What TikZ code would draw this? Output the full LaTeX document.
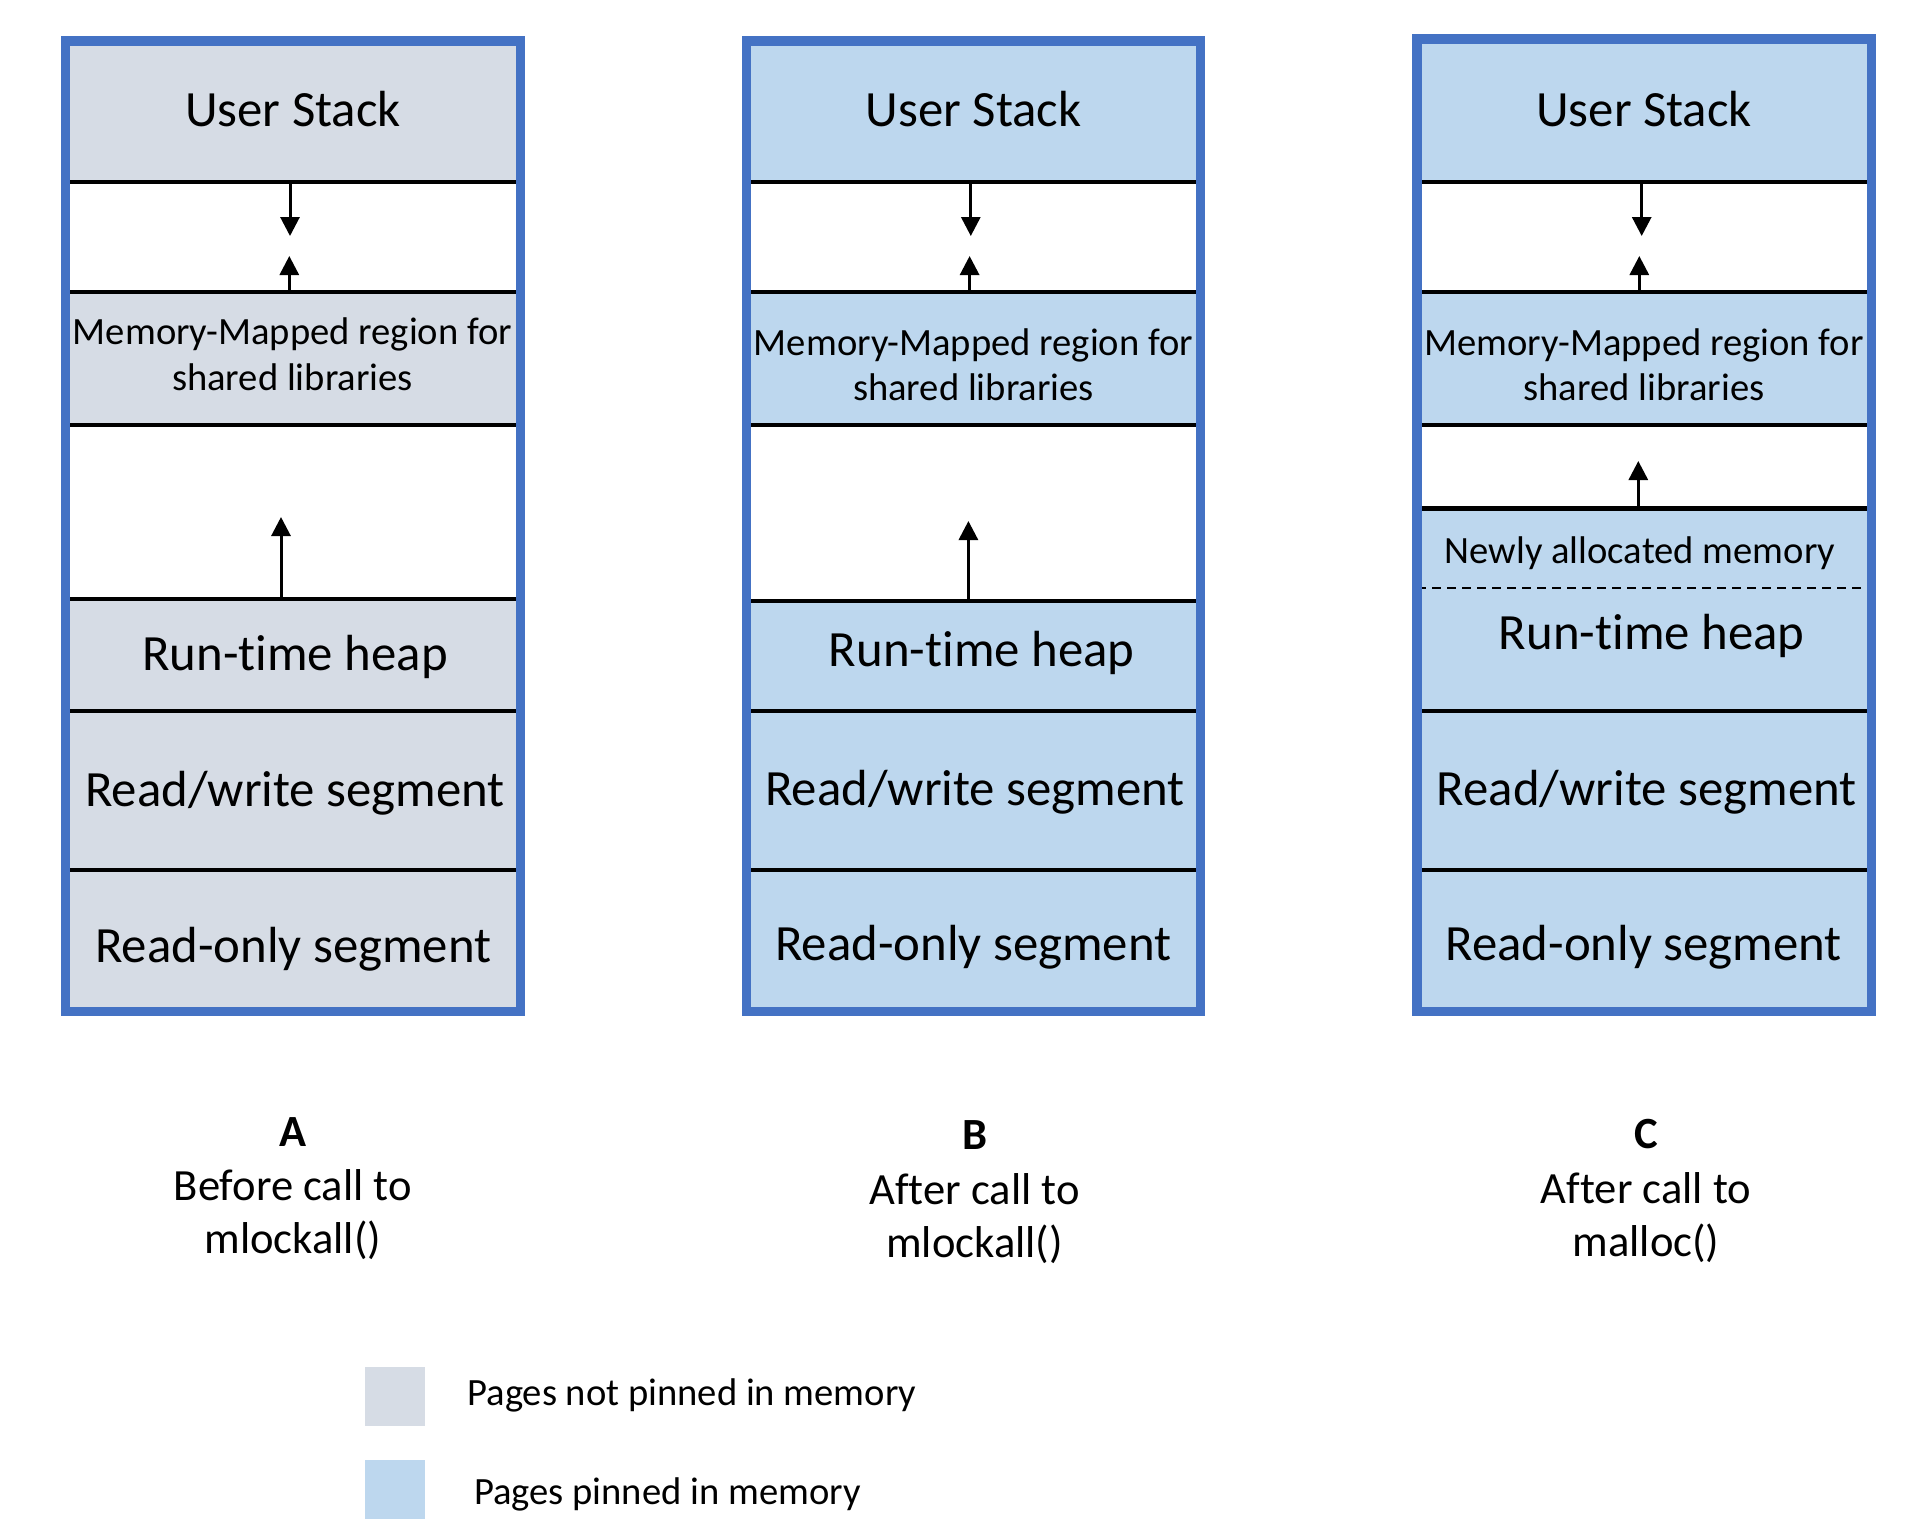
\documentclass[tikz,border=0pt]{standalone}
\usepackage{fontspec}
\setmainfont{Carlito}[Ligatures={NoCommon}]
\usetikzlibrary{arrows.meta}
\definecolor{bordblue}{HTML}{4472C4}
\definecolor{pinned}{HTML}{BDD7EE}
\definecolor{unpinned}{HTML}{D6DCE5}
\begin{document}
\begin{tikzpicture}[x=0.5pt,y=-0.5pt,
  border/.style={draw=bordblue,line width=4.75pt},
  sep/.style={draw=black,line width=2.25pt},
  dsep/.style={draw=black,line width=1pt,dash pattern=on 4.5pt off 3pt},
  growarrow/.style={draw=black,line width=1.5pt,-{Triangle[length=9.5pt,width=9.5pt]}},
  bigtxt/.style={inner sep=0pt,anchor=base,font=\fontsize{25.4pt}{30pt}\selectfont},
  midtxt/.style={inner sep=0pt,anchor=base,font=\fontsize{19.3pt}{23pt}\selectfont},
  lbltxt/.style={inner sep=0pt,anchor=base,font=\fontsize{22.3pt}{27pt}\selectfont},
  keybox/.style={inner sep=0pt,anchor=north west,minimum width=30.25pt,minimum height=29.5pt},
]
\useasboundingbox (0,0) rectangle (1932,1538);
\fill[white] (0,0) rectangle (1932,1538);

% ---------------- Panel A ----------------
\fill[unpinned] (65.5,41) rectangle (520.5,1011.5);
\fill[white] (65.5,182) rectangle (520.5,292);
\fill[white] (65.5,425) rectangle (520.5,599);
\foreach \yy in {182,292,425,599,711,870}
  \draw[sep] (65.5,\yy) -- (520.5,\yy);
\draw[border] (65.5,41) rectangle (520.5,1011.5);
\node[bigtxt] (usA) at (293,126) {User Stack};
\node[midtxt] (mmA1) at (292.5,344) {Memory-Mapped region for};
\node[midtxt] (mmA2) at (292.5,390.7) {shared libraries};
\node[bigtxt] (rhA) at (295,670) {Run-time heap};
\node[bigtxt] (rwA) at (295,806) {Read/write segment};
\node[bigtxt] (roA) at (293.3,962) {Read-only segment};
\coordinate (aA1s) at (290,182);   \coordinate (aA1e) at (290,236);
\coordinate (aA2s) at (289.3,292); \coordinate (aA2e) at (289.3,256);
\coordinate (aA3s) at (281,599);   \coordinate (aA3e) at (281,517);
\draw[growarrow] (aA1s) -- (aA1e);
\draw[growarrow] (aA2s) -- (aA2e);
\draw[growarrow] (aA3s) -- (aA3e);

% ---------------- Panel B ----------------
\fill[pinned] (746.7,41) rectangle (1200.7,1011.5);
\fill[white] (746.7,182) rectangle (1200.7,292);
\fill[white] (746.7,425) rectangle (1200.7,601);
\foreach \yy in {182,292,425,601,711,870}
  \draw[sep] (746.7,\yy) -- (1200.7,\yy);
\draw[border] (746.7,41) rectangle (1200.7,1011.5);
\node[bigtxt] (usB) at (973.5,126) {User Stack};
\node[midtxt] (mmB1) at (973.5,355) {Memory-Mapped region for};
\node[midtxt] (mmB2) at (973.5,400) {shared libraries};
\node[bigtxt] (rhB) at (981.7,666.7) {Run-time heap};
\node[bigtxt] (rwB) at (975,805) {Read/write segment};
\node[bigtxt] (roB) at (973.3,960) {Read-only segment};
\coordinate (aB1s) at (970.8,182); \coordinate (aB1e) at (970.8,236);
\coordinate (aB2s) at (969.6,292); \coordinate (aB2e) at (969.6,256);
\coordinate (aB3s) at (968.4,601); \coordinate (aB3e) at (968.4,521);
\draw[growarrow] (aB1s) -- (aB1e);
\draw[growarrow] (aB2s) -- (aB2e);
\draw[growarrow] (aB3s) -- (aB3e);

% ---------------- Panel C ----------------
\fill[pinned] (1417,39) rectangle (1871.5,1011.5);
\fill[white] (1417,182) rectangle (1871.5,292);
\fill[white] (1417,425) rectangle (1871.5,508.3);
\foreach \yy in {182,292,425,508.3,711,870}
  \draw[sep] (1417,\yy) -- (1871.5,\yy);
\draw[dsep] (1417,588.3) -- (1871.5,588.3);
\draw[border] (1417,39) rectangle (1871.5,1011.5);
\node[bigtxt] (usC) at (1644,126) {User Stack};
\node[midtxt] (mmC1) at (1644,355) {Memory-Mapped region for};
\node[midtxt] (mmC2) at (1644,400) {shared libraries};
\node[midtxt] (naC) at (1640,563.3) {Newly allocated memory};
\node[bigtxt] (rhC) at (1651.7,649.3) {Run-time heap};
\node[bigtxt] (rwC) at (1646.7,805) {Read/write segment};
\node[bigtxt] (roC) at (1643.6,960) {Read-only segment};
\coordinate (aC1s) at (1641.7,182); \coordinate (aC1e) at (1641.7,236);
\coordinate (aC2s) at (1639.3,292); \coordinate (aC2e) at (1639.3,256);
\coordinate (aC3s) at (1638.3,508.3); \coordinate (aC3e) at (1638.3,461);
\draw[growarrow] (aC1s) -- (aC1e);
\draw[growarrow] (aC2s) -- (aC2e);
\draw[growarrow] (aC3s) -- (aC3e);

% ---------------- Captions ----------------
\node[lbltxt,font=\fontsize{22.3pt}{27pt}\selectfont\bfseries] (capA) at (292.7,1146) {A};
\node[lbltxt] (capA2) at (292.8,1200.7) {Before call to};
\node[lbltxt] (capA3) at (292.8,1253.3) {mlockall()};
\node[lbltxt,font=\fontsize{22.3pt}{27pt}\selectfont\bfseries] (capB) at (974.6,1149) {B};
\node[lbltxt] (capB2) at (974.6,1204) {After call to};
\node[lbltxt] (capB3) at (974.6,1257) {mlockall()};
\node[lbltxt,font=\fontsize{22.3pt}{27pt}\selectfont\bfseries] (capC) at (1646,1148.3) {C};
\node[lbltxt] (capC2) at (1646,1203.3) {After call to};
\node[lbltxt] (capC3) at (1646,1256.7) {malloc()};

% ---------------- Legend ----------------
\node[keybox,fill=unpinned] (keyU) at (364.5,1366.7) {};
\node[keybox,fill=pinned] (keyP) at (364.5,1460) {};
\node[midtxt,anchor=base west] (keyUt) at (467,1405) {Pages not pinned in memory};
\node[midtxt,anchor=base west] (keyPt) at (473.7,1504) {Pages pinned in memory};
\end{tikzpicture}
\end{document}
